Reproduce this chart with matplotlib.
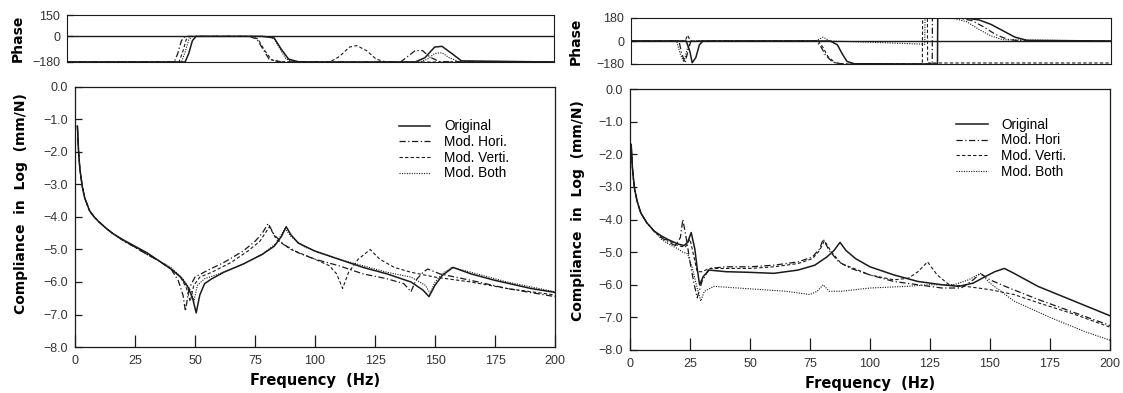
import matplotlib
matplotlib.use("Agg")
import matplotlib.pyplot as plt
from matplotlib.ticker import FixedLocator, FuncFormatter

# ---------------- data ----------------
series_names = ["Original", "Mod. Hori.", "Mod. Verti.", "Mod. Both"]
series_names_r = ["Original", "Mod. Hori", "Mod. Verti.", "Mod. Both"]

# Left panel: compliance (log mm/N)
L_orig_f = [1, 1.5, 2, 3, 4, 6, 8, 10, 13, 16, 20, 25, 30, 35, 40, 44, 47, 49, 50.5, 52, 54, 57, 62, 70, 78, 83, 86, 88, 90, 93, 100, 110, 120, 130, 140, 145, 147.5, 150, 153, 157.5, 165, 175, 190, 200]
L_orig_v = [-1.2, -2.0, -2.5, -3.05, -3.4, -3.8, -4.0, -4.15, -4.35, -4.52, -4.7, -4.9, -5.1, -5.35, -5.6, -5.85, -6.15, -6.5, -6.95, -6.4, -6.05, -5.9, -5.7, -5.45, -5.15, -4.9, -4.6, -4.3, -4.55, -4.8, -5.05, -5.3, -5.55, -5.75, -6.0, -6.25, -6.45, -6.1, -5.8, -5.55, -5.75, -5.95, -6.2, -6.32]
L_hori_f = [1, 1.5, 2, 3, 4, 6, 8, 10, 13, 16, 20, 25, 30, 35, 40, 43, 45, 46, 47.5, 50, 55, 62, 70, 75, 78, 80.5, 83, 87, 93, 100, 110, 120, 130, 137, 140, 142, 145, 147, 152, 165, 180, 200]
L_hori_v = [-1.2, -2.0, -2.5, -3.05, -3.4, -3.8, -4.0, -4.15, -4.35, -4.52, -4.72, -4.93, -5.15, -5.35, -5.6, -5.95, -6.4, -6.9, -6.2, -5.85, -5.65, -5.4, -5.05, -4.75, -4.5, -4.2, -4.55, -4.85, -5.1, -5.3, -5.5, -5.75, -5.9, -6.05, -6.3, -5.95, -5.7, -5.6, -5.75, -5.95, -6.2, -6.45]
L_verti_f = [1, 1.5, 2, 3, 4, 6, 8, 10, 13, 16, 20, 25, 30, 35, 40, 44, 46.5, 48, 49.5, 52, 57, 65, 72, 77, 81, 84, 90, 100, 106, 109, 111.5, 114, 118, 123, 127, 133, 140, 150, 165, 180, 200]
L_verti_v = [-1.2, -2.0, -2.5, -3.05, -3.4, -3.8, -4.0, -4.15, -4.35, -4.52, -4.72, -4.93, -5.15, -5.35, -5.6, -5.85, -6.2, -6.6, -6.1, -5.85, -5.7, -5.4, -5.05, -4.75, -4.3, -4.7, -5.0, -5.3, -5.5, -5.75, -6.2, -5.7, -5.3, -5.0, -5.3, -5.55, -5.7, -5.85, -6.0, -6.2, -6.4]
L_both_f = [1, 1.5, 2, 3, 4, 6, 8, 10, 13, 16, 20, 25, 30, 35, 40, 45, 48.5, 49.5, 51, 54, 60, 70, 78, 84, 87.5, 90, 95, 100, 110, 120, 130, 140, 146, 148, 150, 153, 157, 165, 180, 200]
L_both_v = [-1.2, -2.0, -2.5, -3.05, -3.4, -3.8, -4.0, -4.15, -4.35, -4.52, -4.72, -4.93, -5.15, -5.35, -5.55, -5.9, -6.3, -6.6, -6.1, -5.9, -5.75, -5.45, -5.15, -4.8, -4.35, -4.6, -4.9, -5.05, -5.3, -5.5, -5.7, -5.85, -6.1, -6.35, -6.0, -5.75, -5.55, -5.7, -6.0, -6.3]

# Left panel: phase (deg)
L_ph_orig_f = [0, 48.5, 50, 51.5, 53, 80, 85, 88, 91, 95, 100, 143, 147, 151, 154, 158, 162, 200]
L_ph_orig_v = [-180, -180, -120, -30, 0, 0, -10, -90, -160, -178, -180, -180, -150, -75, -70, -120, -172, -180]
L_ph_hori_f = [0, 44, 45.5, 47, 48.5, 75, 78, 80.5, 83, 87, 95, 137, 140, 143, 146, 149, 153, 200]
L_ph_hori_v = [-180, -180, -120, -30, 0, 0, -20, -90, -160, -178, -180, -180, -140, -100, -100, -145, -178, -180]
L_ph_verti_f = [0, 46, 47.5, 49, 50.5, 76, 78.5, 81, 84, 88, 95, 108, 112, 116, 119, 123, 127, 131, 200]
L_ph_verti_v = [-180, -180, -110, -20, 0, 0, -20, -95, -165, -178, -180, -180, -140, -75, -65, -100, -160, -180, -180]
L_ph_both_f = [0, 47, 48.5, 50, 51.5, 82, 85, 87.5, 90, 93, 100, 145, 148, 151, 154, 157, 161, 200]
L_ph_both_v = [-180, -180, -110, -25, 0, 0, -15, -90, -160, -178, -180, -180, -160, -120, -115, -150, -178, -180]

# Right panel: compliance (log mm/N)
R_orig_f = [0.5, 1, 1.5, 2, 3, 4.5, 7, 10, 13, 16, 20, 22.5, 24, 25.5, 27, 28, 29, 30.5, 33, 40, 50, 60, 70, 77, 82, 85, 87.5, 90, 94, 100, 110, 120, 130, 137, 143, 148, 152, 156, 160, 170, 180, 190, 200]
R_orig_v = [-1.7, -2.4, -2.8, -3.1, -3.45, -3.8, -4.1, -4.35, -4.5, -4.62, -4.75, -4.8, -4.7, -4.4, -4.9, -5.5, -6.0, -5.75, -5.55, -5.6, -5.62, -5.65, -5.55, -5.4, -5.15, -4.95, -4.7, -4.95, -5.2, -5.45, -5.7, -5.9, -6.0, -6.05, -5.95, -5.75, -5.6, -5.5, -5.65, -6.05, -6.35, -6.65, -6.95]
R_hori_f = [0.5, 1, 1.5, 2, 3, 4.5, 7, 10, 13, 16, 19, 21, 22, 23.5, 25, 26.5, 28, 30, 33, 40, 50, 60, 70, 76, 79, 80.5, 83, 87, 92, 100, 110, 120, 130, 138, 143, 146, 150, 158, 170, 185, 200]
R_hori_v = [-1.7, -2.4, -2.8, -3.1, -3.45, -3.8, -4.1, -4.35, -4.55, -4.7, -4.8, -4.55, -4.0, -4.6, -5.3, -5.9, -6.4, -5.9, -5.5, -5.45, -5.45, -5.4, -5.3, -5.15, -4.9, -4.6, -4.95, -5.3, -5.5, -5.7, -5.9, -6.0, -6.1, -6.1, -5.85, -5.65, -5.85, -6.1, -6.45, -6.85, -7.25]
R_verti_f = [0.5, 1, 1.5, 2, 3, 4.5, 7, 10, 13, 16, 20, 23, 25, 26.5, 28, 30, 33, 40, 50, 60, 70, 76, 79, 81, 84, 88, 95, 100, 110, 116, 120, 124, 128, 133, 140, 150, 160, 170, 185, 200]
R_verti_v = [-1.7, -2.4, -2.8, -3.1, -3.45, -3.8, -4.1, -4.35, -4.55, -4.65, -4.8, -4.85, -4.6, -5.1, -5.6, -5.6, -5.5, -5.5, -5.5, -5.45, -5.35, -5.2, -4.95, -4.65, -5.0, -5.35, -5.55, -5.7, -5.85, -5.8, -5.6, -5.3, -5.7, -6.0, -6.05, -6.15, -6.3, -6.55, -6.9, -7.3]
R_both_f = [0.5, 1, 1.5, 2, 3, 4.5, 7, 10, 13, 16, 20, 22, 24, 26, 28, 29.5, 31, 35, 45, 55, 65, 75, 78, 80.5, 83, 88, 100, 115, 125, 135, 141, 146, 150, 160, 175, 190, 200]
R_both_v = [-1.7, -2.4, -2.8, -3.1, -3.45, -3.8, -4.1, -4.35, -4.6, -4.75, -4.9, -5.0, -5.05, -5.5, -6.1, -6.5, -6.2, -6.05, -6.1, -6.15, -6.2, -6.3, -6.2, -6.0, -6.2, -6.2, -6.1, -6.05, -6.0, -6.0, -5.85, -5.65, -5.95, -6.5, -7.0, -7.45, -7.7]

# Right panel: phase (deg)
R_ph_orig_f = [0, 23, 24.5, 25.5, 27, 28.5, 30, 83, 86, 88, 90, 93, 127.7, 127.8, 140, 145, 150, 155, 160, 165, 200]
R_ph_orig_v = [0, 0, -80, -170, -130, -30, 0, 0, -30, -100, -160, -178, -180, 180, 178, 165, 130, 80, 30, 5, 0]
R_ph_hori_f = [0, 20, 21, 22.5, 24, 25, 77, 79, 81, 84, 88, 125.5, 125.6, 137, 142, 147, 152, 157, 162, 200]
R_ph_hori_v = [0, 0, -90, -170, -60, 0, 0, -40, -110, -165, -180, -180, 180, 178, 160, 110, 50, 12, 2, 0]
R_ph_verti_f = [0, 22.5, 23.6, 24.7, 78, 80, 82, 85, 89, 121.4, 121.5, 123.5, 123.6, 200]
R_ph_verti_v = [0, 0, 45, 0, 0, -50, -120, -170, -180, -180, 180, 180, -172, -172]
R_ph_both_f = [0, 19, 20.5, 22, 23.5, 25, 77, 80, 83, 100, 115, 122.4, 122.5, 135, 140, 145, 150, 155, 200]
R_ph_both_v = [0, 0, -100, -165, -60, 0, 0, 30, 0, -10, -20, -25, 180, 175, 150, 90, 40, 10, 0]

freq_ticks = [0, 25, 50, 75, 100, 125, 150, 175, 200]
comp_ticks = [0, -1, -2, -3, -4, -5, -6, -7, -8]
L_phase_ticks = [150, 0, -180]
R_phase_ticks = [180, 0, -180]

# ---------------- styling ----------------
plt.rcParams['font.family'] = ['Liberation Sans', 'DejaVu Sans']
styles = [
    dict(linestyle='-', linewidth=1.1),
    dict(linestyle=(0, (5, 2, 1, 2)), linewidth=0.9),
    dict(linestyle=(0, (3, 2)), linewidth=0.8),
    dict(linestyle=(0, (1, 1.2)), linewidth=0.8),
]
ink = '#1a1a1a'
tick_color = '#333333'
W, H = 1123, 393
fig = plt.figure(figsize=(W / 100, H / 100), dpi=100)

def rect(x0, y0, x1, y1):
    return [x0 / W, 1 - y1 / H, (x1 - x0) / W, (y1 - y0) / H]

minus = lambda s: s.replace('-', '\u2212')

def setup_main(ax):
    ax.set_xlim(0, 200)
    ax.set_ylim(-8, 0)
    ax.xaxis.set_major_locator(FixedLocator(freq_ticks))
    ax.yaxis.set_major_locator(FixedLocator(comp_ticks))
    ax.yaxis.set_major_formatter(FuncFormatter(lambda v, p: minus(f"{v:.1f}") if v != 0 else "0.0"))
    ax.tick_params(axis='x', direction='in', length=9, width=0.9, colors=ink, labelcolor=tick_color, labelsize=9, pad=6)
    ax.tick_params(axis='y', direction='in', length=5, width=0.9, colors=ink, labelcolor=tick_color, labelsize=9, pad=5)
    for s in ax.spines.values():
        s.set_linewidth(0.9)
        s.set_color(ink)
    ax.set_xlabel('Frequency  (Hz)', fontsize=10.5, fontweight='bold', family='DejaVu Sans', labelpad=4)
    ax.set_ylabel('Compliance  in  Log  (mm/N)', fontsize=10, fontweight='bold', family='DejaVu Sans')

def setup_phase(ax, ticks, lims):
    ax.set_xlim(0, 200)
    ax.set_ylim(*lims)
    ax.set_xticks([])
    ax.yaxis.set_major_locator(FixedLocator(ticks))
    ax.yaxis.set_major_formatter(FuncFormatter(lambda v, p: minus(f"{int(v)}")))
    ax.tick_params(axis='y', direction='in', length=4, width=0.9, colors=ink, labelcolor=tick_color, labelsize=9, pad=5)
    for s in ax.spines.values():
        s.set_linewidth(0.8)
        s.set_color(ink)
    ax.axhline(0, color=ink, linewidth=1.0)
    ax.set_ylabel('Phase', fontsize=10, fontweight='bold', family='DejaVu Sans')

# Left panel
axLp = fig.add_axes(rect(67, 15, 554, 62))
axL = fig.add_axes(rect(75, 87, 555, 347))
# Right panel
axRp = fig.add_axes(rect(631, 18, 1111, 64))
axR = fig.add_axes(rect(630, 89, 1110, 350))

L_comp = [(L_orig_f, L_orig_v), (L_hori_f, L_hori_v), (L_verti_f, L_verti_v), (L_both_f, L_both_v)]
L_phase = [(L_ph_orig_f, L_ph_orig_v), (L_ph_hori_f, L_ph_hori_v), (L_ph_verti_f, L_ph_verti_v), (L_ph_both_f, L_ph_both_v)]
R_comp = [(R_orig_f, R_orig_v), (R_hori_f, R_hori_v), (R_verti_f, R_verti_v), (R_both_f, R_both_v)]
R_phase = [(R_ph_orig_f, R_ph_orig_v), (R_ph_hori_f, R_ph_hori_v), (R_ph_verti_f, R_ph_verti_v), (R_ph_both_f, R_ph_both_v)]

for (f, v), name, st in zip(L_comp, series_names, styles):
    axL.plot(f, v, color=ink, label=name, **st)
for (f, v), st in zip(L_phase, styles):
    axLp.plot(f, v, color=ink, **st)
for (f, v), name, st in zip(R_comp, series_names_r, styles):
    axR.plot(f, v, color=ink, label=name, **st)
for (f, v), st in zip(R_phase, styles):
    axRp.plot(f, v, color=ink, **st)

setup_main(axL)
setup_main(axR)
setup_phase(axLp, L_phase_ticks, (-180, 150))
setup_phase(axRp, R_phase_ticks, (-180, 180))

axL.legend(loc='upper left', bbox_to_anchor=(0.675, 0.875), frameon=False, fontsize=9.8,
           handlelength=2.3, handletextpad=1.0, labelspacing=0.12, borderaxespad=0, borderpad=0)
axR.legend(loc='upper left', bbox_to_anchor=(0.68, 0.89), frameon=False, fontsize=9.8,
           handlelength=2.3, handletextpad=1.0, labelspacing=0.12, borderaxespad=0, borderpad=0)

axL.yaxis.set_label_coords(-0.098, 0.55)
axR.yaxis.set_label_coords(-0.094, 0.535)
axLp.yaxis.set_label_coords(-0.086, 0.5)
axRp.yaxis.set_label_coords(-0.1, 0.5)

fig.savefig('out.png', dpi=100)
